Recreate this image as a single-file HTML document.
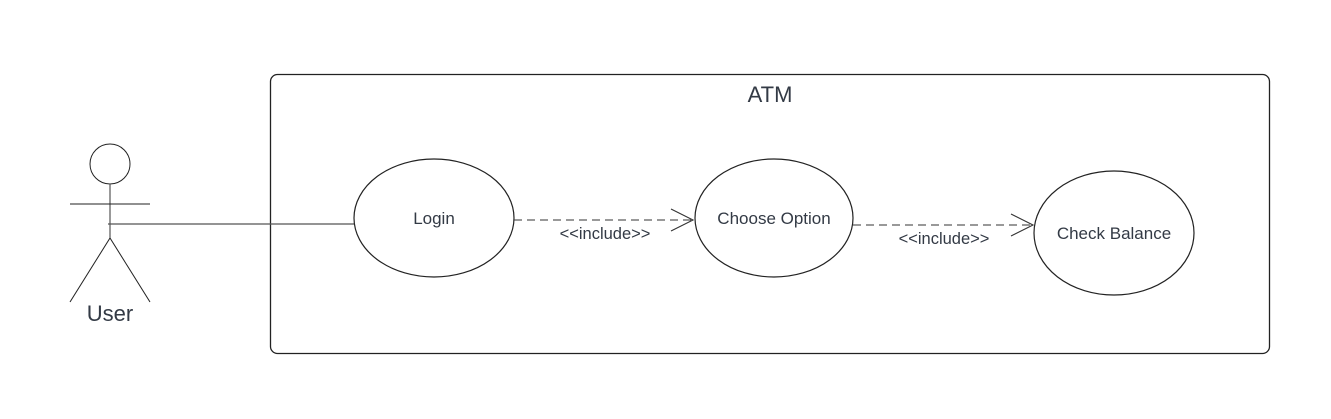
<!DOCTYPE html>
<html><head><meta charset="utf-8"><style>
html,body{margin:0;padding:0;background:#fff;}
svg text{font-family:"Liberation Sans",sans-serif;fill:#333a45;}
</style></head><body>
<svg width="1331" height="414" viewBox="0 0 1331 414" xmlns="http://www.w3.org/2000/svg">
<rect x="270.5" y="74.5" width="999" height="279" rx="7" fill="none" stroke="#222" stroke-width="1.3"/>
<text x="770" y="102" font-size="22" text-anchor="middle">ATM</text>
<circle cx="110" cy="164" r="20" fill="none" stroke="#222" stroke-width="1"/>
<line x1="110" y1="184" x2="110" y2="238" stroke="#555" stroke-width="1.2"/>
<line x1="70" y1="204" x2="150" y2="204" stroke="#222" stroke-width="1"/>
<line x1="110" y1="238" x2="70" y2="302" stroke="#222" stroke-width="1"/>
<line x1="110" y1="238" x2="150" y2="302" stroke="#222" stroke-width="1"/>
<text x="110" y="321" font-size="22" text-anchor="middle">User</text>
<line x1="108" y1="224" x2="354" y2="224" stroke="#555" stroke-width="1.2"/>
<ellipse cx="434" cy="218" rx="80" ry="59" fill="#fff" stroke="#222" stroke-width="1.2"/>
<text x="434" y="224" font-size="17" text-anchor="middle">Login</text>
<ellipse cx="774" cy="218" rx="79" ry="59" fill="#fff" stroke="#222" stroke-width="1.2"/>
<text x="774" y="224" font-size="17" text-anchor="middle">Choose Option</text>
<ellipse cx="1114" cy="233" rx="80" ry="62" fill="#fff" stroke="#222" stroke-width="1.2"/>
<text x="1114" y="239" font-size="17" text-anchor="middle">Check Balance</text>
<line x1="514" y1="220" x2="693" y2="220" stroke="#333" stroke-width="1.1" stroke-dasharray="8,5"/>
<polyline points="671,209 693,220 671,231" fill="none" stroke="#333" stroke-width="1.1"/>
<text x="605" y="239" font-size="16.5" text-anchor="middle">&lt;&lt;include&gt;&gt;</text>
<line x1="853" y1="225" x2="1033" y2="225" stroke="#333" stroke-width="1.1" stroke-dasharray="8,5"/>
<polyline points="1011,214 1033,225 1011,236" fill="none" stroke="#333" stroke-width="1.1"/>
<text x="944" y="244" font-size="16.5" text-anchor="middle">&lt;&lt;include&gt;&gt;</text>
</svg>
</body></html>
